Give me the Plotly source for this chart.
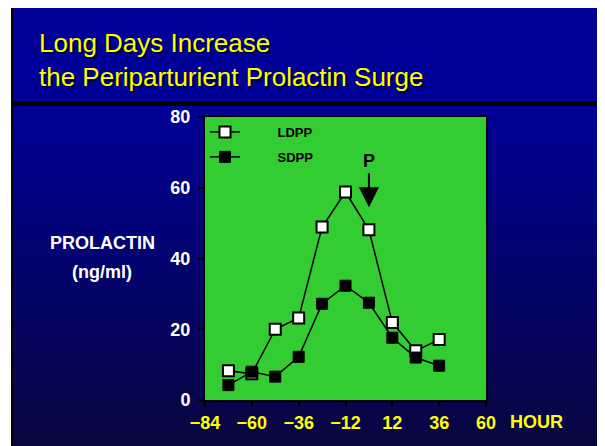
import plotly.graph_objects as go

# data
hours = [-72, -60, -48, -36, -24, -12, 0, 12, 24, 36]
ldpp = [8.3, 7.4, 20.0, 23.2, 48.9, 58.8, 48.1, 21.9, 13.9, 17.1]
sdpp = [4.2, 8.0, 6.6, 12.2, 27.2, 32.3, 27.5, 17.6, 12.0, 9.7]
x_ticks = [-84, -60, -36, -12, 12, 36, 60]
y_ticks = [0, 20, 40, 60, 80]

# page is drawn with an 8px body margin, so the figure is shrunk and
# everything below is given in window pixels
OFF = 8
W, H = 605 - OFF, 446 - OFF
L, R, T, B = 205, 486, 117, 400   # plot area in window pixels

FONT = "Arial, Liberation Sans, sans-serif"
PAD = "\u00a0" * 9   # push legend text right like the slide


def px_x(p):
    return (p - L) / (R - L)


def px_y(p):
    return (B - p) / (B - T)


def prect(x0, y0, x1, y1, color):
    return dict(type="rect", xref="paper", yref="paper",
                x0=px_x(x0), x1=px_x(x1), y0=px_y(y0), y1=px_y(y1),
                fillcolor=color, line=dict(width=0), layer="below")


fig = go.Figure()

fig.add_trace(go.Scatter(
    x=hours, y=ldpp, name=PAD + "<b>LDPP</b>", mode="lines+markers", legendgroup="a",
    line=dict(color="black", width=1.5),
    marker=dict(symbol="square", size=11, color="white",
                line=dict(color="black", width=2)),
))
fig.add_trace(go.Scatter(
    x=hours, y=sdpp, name=PAD + "<b>SDPP</b>", mode="lines+markers", legendgroup="b",
    line=dict(color="black", width=1.5),
    marker=dict(symbol="square", size=11, color="black",
                line=dict(color="black", width=1)),
))

# slide background: frame, title band, divider, gradient body, green plot area
shapes = [prect(11, 0, 602, 460, "black"),
          prect(13, 6, 599, 101, "rgb(0,0,153)")]
n = 40
top, bot = 106, 460
for i in range(n):
    y0 = top + (bot - top) * i / n
    y1 = top + (bot - top) * (i + 1) / n
    t = i / (n - 1)
    b = int(150 - (150 - 62) * t)
    shapes.append(prect(13, y0, 599, y1 + 0.5, f"rgb({int(8*t)},{int(8*t)},{b})"))
shapes.append(prect(L, T, R, B, "#33cc33"))
fig.update_layout(shapes=shapes)

title_font = dict(size=26, color="#ffff00", family=FONT, shadow="2px 2px 1px #000033")
annotations = [
    dict(text="Long Days Increase", x=px_x(37), y=px_y(43), xanchor="left", yanchor="middle",
         font=title_font),
    dict(text="the Periparturient Prolactin Surge", x=px_x(37), y=px_y(77),
         xanchor="left", yanchor="middle", font=title_font),
    dict(text="<b>PROLACTIN</b>", x=px_x(102), y=px_y(243), xanchor="center", yanchor="middle",
         font=dict(size=18, color="white", family=FONT)),
    dict(text="<b>(ng/ml)</b>", x=px_x(102), y=px_y(272), xanchor="center", yanchor="middle",
         font=dict(size=18, color="white", family=FONT)),
    dict(text="<b>HOUR</b>", x=px_x(508), y=px_y(422), xanchor="left", yanchor="middle",
         font=dict(size=18, color="#ffff00", family=FONT)),
]
for a in annotations:
    a.update(xref="paper", yref="paper", showarrow=False)

# parturition arrow
annotations.append(dict(
    x=0, y=54.5, xref="x", yref="y", text="<b>P</b>",
    showarrow=True, ax=0, ay=-34, arrowhead=2, arrowsize=2.0, arrowwidth=2,
    arrowcolor="black", font=dict(size=18, color="black", family=FONT),
    yanchor="bottom",
))
fig.update_layout(annotations=annotations)

fig.update_layout(
    width=W, height=H,
    margin=dict(l=L - OFF, r=W - (R - OFF), t=T - OFF, b=H - (B - OFF)),
    paper_bgcolor="white",
    plot_bgcolor="#33cc33",
    showlegend=True,
    legend=dict(x=0.0, y=1.0, xanchor="left", yanchor="top",
                bgcolor="rgba(0,0,0,0)", traceorder="grouped", tracegroupgap=5,
                font=dict(size=13, color="black", family=FONT)),
    xaxis=dict(range=[-84, 60], tickvals=x_ticks, showgrid=False, zeroline=False,
               showline=True, linecolor="black", linewidth=2, mirror=True,
               ticks="outside", ticklen=5, tickwidth=2, tickcolor="black",
               tickfont=dict(size=18, color="#ffff00", family=FONT, weight="bold")),
    yaxis=dict(range=[0, 80], tickvals=y_ticks, showgrid=False, zeroline=False,
               showline=True, linecolor="black", linewidth=2, mirror=True,
               ticks="outside", ticklen=5, tickwidth=2, tickcolor="black",
               ticklabelstandoff=4,
               tickfont=dict(size=18, color="white", family=FONT, weight="bold")),
)

fig.write_html("out.html")
